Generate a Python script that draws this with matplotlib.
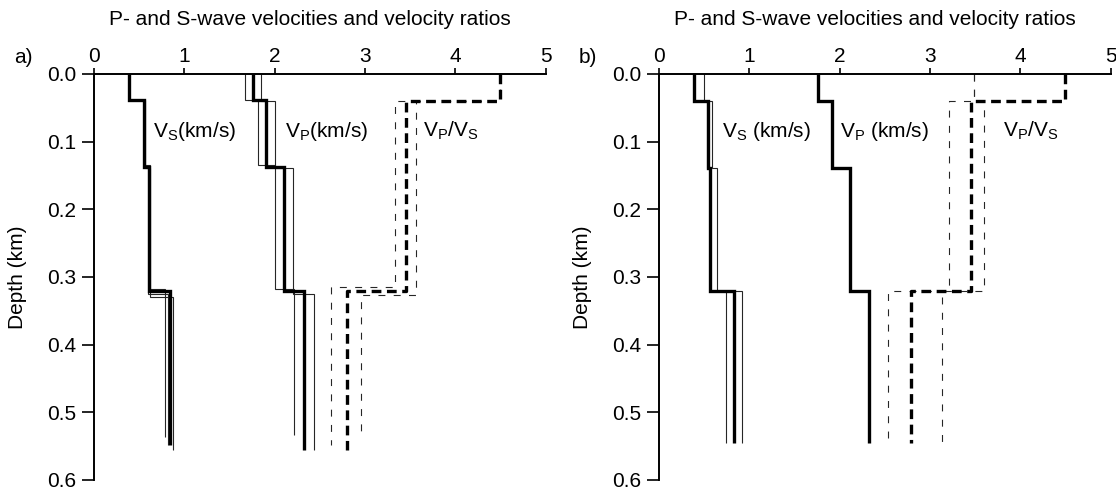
import numpy as np
import matplotlib
matplotlib.use("Agg")
import matplotlib.pyplot as plt

plt.rcParams['font.family'] = ['Liberation Sans', 'DejaVu Sans']
plt.rcParams['mathtext.fontset'] = 'custom'
plt.rcParams['mathtext.rm'] = 'Liberation Sans'
plt.rcParams['lines.scale_dashes'] = False

# ---- panel a: ensemble of models (first = best / thick) ----
a_vs = [[0.39, 0.55, 0.61, 0.84],
        [0.39, 0.56, 0.62, 0.79],
        [0.39, 0.55, 0.60, 0.82],
        [0.39, 0.56, 0.62, 0.87]]
a_vs_z = [[0, 0.038, 0.137, 0.320, 0.548],
          [0, 0.038, 0.135, 0.318, 0.536],
          [0, 0.038, 0.137, 0.325, 0.548],
          [0, 0.038, 0.139, 0.330, 0.556]]

a_vp = [[1.76, 1.905, 2.10, 2.33],
        [1.67, 1.82, 2.01, 2.21],
        [1.85, 2.00, 2.20, 2.44]]
a_vp_z = [[0, 0.038, 0.137, 0.320, 0.555],
          [0, 0.038, 0.134, 0.318, 0.533],
          [0, 0.040, 0.139, 0.325, 0.556]]

a_ratio = [[4.50, 3.45, 2.80],
           [4.50, 3.33, 2.63],
           [4.50, 3.57, 2.96]]
a_ratio_z = [[0, 0.040, 0.320, 0.556],
             [0, 0.040, 0.315, 0.548],
             [0, 0.040, 0.327, 0.540]]

# ---- panel b: best model and bounds ----
b_vs = [[0.39, 0.546, 0.57, 0.83],
        [0.39, 0.53, 0.56, 0.742],
        [0.50, 0.585, 0.64, 0.916]]
b_vp = [[1.764, 1.92, 2.115, 2.33]]
b_ratio = [[4.50, 3.45, 2.79],
           [3.49, 3.21, 2.54],
           [3.49, 3.60, 3.13]]
b_z = [0, 0.040, 0.139, 0.320, 0.545]
b_ratio_z = [0, 0.040, 0.320, 0.545]

xticks = [0, 1, 2, 3, 4, 5]
yticks = [0.0, 0.1, 0.2, 0.3, 0.4, 0.5, 0.6]
title = "P- and S-wave velocities and velocity ratios"


def step_xy(v, z):
    v = np.asarray(v)
    z = np.asarray(z)
    x = np.repeat(v, 2)
    y = np.concatenate([[z[0]], np.repeat(z[1:-1], 2), [z[-1]]])
    return x, y


def draw_set(ax, vals, zs, dashed=False):
    # thin ones first, best model on top
    for i in range(len(vals) - 1, -1, -1):
        x, y = step_xy(vals[i], zs[i])
        if i == 0:
            lw, col = 2.4, 'black'
            dash = (7, 4)
        else:
            lw, col = 0.8, '0.15'
            dash = (5, 6)
        ln, = ax.plot(x, y, color=col, lw=lw, solid_joinstyle='miter',
                      solid_capstyle='butt')
        if dashed:
            ln.set_dashes(dash)


def setup(ax, letter, labels):
    ax.set_xlim(0, 5)
    ax.set_ylim(0.6, 0.0)
    ax.xaxis.tick_top()
    ax.set_xticks(xticks)
    ax.set_yticks(yticks)
    ax.set_yticklabels(["%.1f" % t for t in yticks])
    for s in ['right', 'bottom']:
        ax.spines[s].set_visible(False)
    for s in ['left', 'top']:
        ax.spines[s].set_linewidth(1.4)
    ax.tick_params(axis='x', direction='out', length=4, width=1.2,
                   labelsize=15, pad=2)
    ax.tick_params(axis='y', direction='out', length=9, width=1.2,
                   labelsize=15, pad=4)
    ax.set_ylabel("Depth (km)", fontsize=15, labelpad=14)
    ax.text(0.478, 1.135, title, transform=ax.transAxes, ha='center',
            va='center', fontsize=15)
    ax.text(-0.157, 1.04, letter, transform=ax.transAxes, ha='center',
            va='center', fontsize=15)
    for (x, txt) in labels:
        ax.text(x, 0.0925, txt, fontsize=15, ha='left', va='baseline')


fig = plt.figure(figsize=(11.16, 4.93), dpi=100)
ax1 = fig.add_axes([0.0842, 0.0264, 0.4046, 0.8235])
ax2 = fig.add_axes([0.5905, 0.0264, 0.4046, 0.8235])

draw_set(ax1, a_vs, a_vs_z)
draw_set(ax1, a_vp, a_vp_z)
draw_set(ax1, a_ratio, a_ratio_z, dashed=True)
setup(ax1, "a)", [(0.65, r"V$_{\rm S}$(km/s)"),
                  (2.115, r"V$_{\rm P}$(km/s)"),
                  (3.64, r"V$_{\rm P}$/V$_{\rm S}$")])

draw_set(ax2, b_vs, [b_z] * len(b_vs))
draw_set(ax2, b_vp, [b_z])
draw_set(ax2, b_ratio, [b_ratio_z] * len(b_ratio), dashed=True)
setup(ax2, "b)", [(0.694, r"V$_{\rm S}$ (km/s)"),
                  (2.0, r"V$_{\rm P}$ (km/s)"),
                  (3.81, r"V$_{\rm P}$/V$_{\rm S}$")])

fig.savefig("out.png", dpi=100)
